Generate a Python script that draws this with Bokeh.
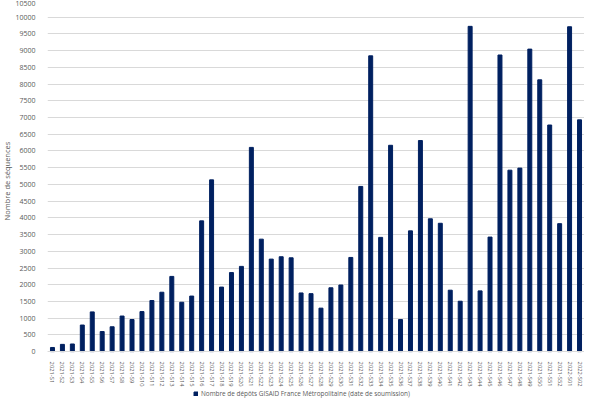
from bokeh.plotting import figure
from bokeh.models import (FactorRange, Range1d, FixedTicker, Legend, LegendItem,
                          ColumnDataSource, Title)
from bokeh.embed import file_html
from bokeh.resources import INLINE

weeks = [f"2021-S{i}" for i in range(1, 53)] + ["2022-S01", "2022-S02"]
counts = [124, 217, 228, 795, 1188, 600, 743, 1064, 960, 1197,
          1528, 1776, 2249, 1476, 1661, 3910, 5136, 1930, 2364, 2549,
          6107, 3363, 2766, 2837, 2806, 1754, 1733, 1300, 1909, 1992,
          2816, 4940, 8845, 3416, 6170, 959, 3611, 6312, 3972, 3838,
          1837, 1507, 9727, 1816, 3425, 8870, 5426, 5488, 9046, 8128,
          6776, 3827, 9715, 6931]
y_ticks = list(range(0, 10501, 500))
series_name = "Nombre de dépôts GISAID France Métropolitaine (date de soumission)"
y_title = "Nombre de séquences"

FONT = "Open Sans"
TXT = "#595959"
BAR = "#002060"

src = ColumnDataSource(dict(week=weeks, n=counts))

# the frame runs below zero so that the tick labels and legend sit inside it
p = figure(width=584, height=398, output_backend="svg", toolbar_location=None, title=None,
           x_range=FactorRange(*weeks, range_padding=0), y_range=Range1d(-1402, 10500),
           min_border_left=36, min_border_right=0, min_border_top=0, min_border_bottom=0)
r = p.vbar(x="week", top="n", width=0.4, source=src, color=BAR)

p.outline_line_color = None
p.xgrid.grid_line_color = None
p.ygrid.grid_line_color = "#d9d9d9"
p.ygrid.grid_line_width = 1

p.yaxis.ticker = FixedTicker(ticks=y_ticks)
p.yaxis.axis_line_color = None
p.yaxis.major_tick_line_color = None
p.yaxis.minor_tick_line_color = None
p.yaxis.major_label_text_font = FONT
p.yaxis.major_label_text_font_size = "7px"
p.yaxis.major_label_text_color = TXT
p.yaxis.major_label_standoff = 6

p.xaxis.fixed_location = 0
p.xaxis.axis_line_color = "#d9d9d9"
p.xaxis.major_tick_line_color = None
p.xaxis.minor_tick_line_color = None
p.xaxis.major_label_orientation = "vertical"
p.xaxis.major_label_text_font = FONT
p.xaxis.major_label_text_font_size = "5.8px"
p.xaxis.major_label_text_color = TXT
p.xaxis.major_label_standoff = 4

ytitle = Title(text=y_title, align="left", offset=178, vertical_align="middle",
               text_font=FONT, text_font_size="7.5px", text_font_style="normal",
               text_color=TXT, standoff=0)
p.add_layout(ytitle, "left")

legend = Legend(items=[LegendItem(label=series_name, renderers=[r])],
                orientation="horizontal", location=(146, 0),
                label_text_font=FONT, label_text_font_size="6.4px", label_text_color=TXT,
                glyph_width=5, glyph_height=5, label_standoff=3,
                border_line_color=None, background_fill_alpha=0,
                margin=0, padding=2, label_height=8)
p.add_layout(legend, "center")

open("out.html", "w").write(file_html(p, INLINE))
